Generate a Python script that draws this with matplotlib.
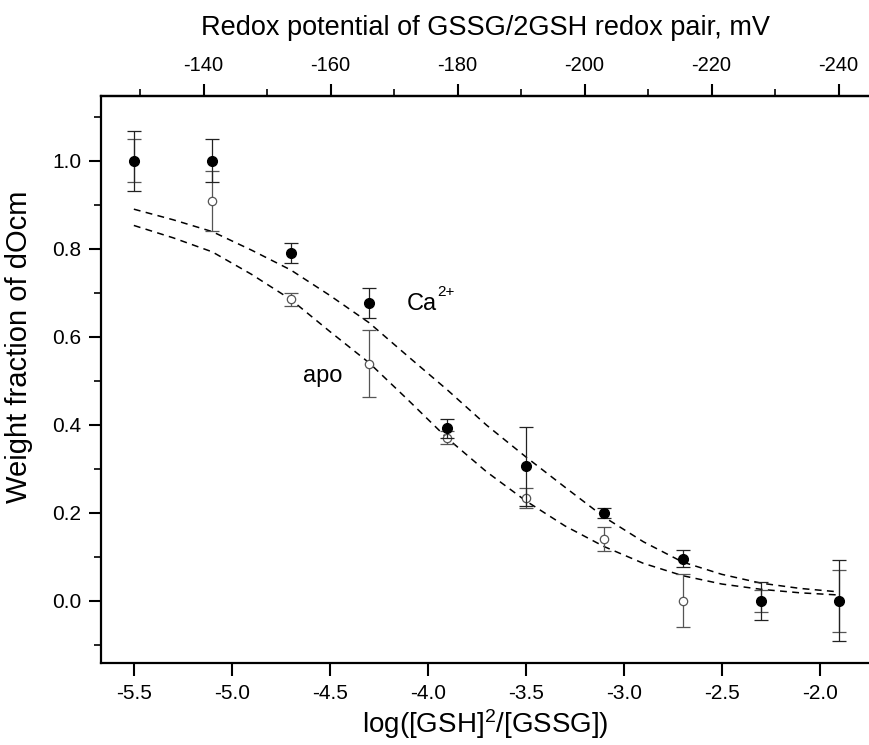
import numpy as np
import matplotlib
matplotlib.use("Agg")
import matplotlib.pyplot as plt
from matplotlib.ticker import MultipleLocator, FixedLocator

plt.rcParams['font.family'] = ['Liberation Sans', 'DejaVu Sans']
plt.rcParams['axes.unicode_minus'] = False
plt.rcParams['mathtext.fontset'] = 'custom'
plt.rcParams['mathtext.rm'] = 'Liberation Sans'
plt.rcParams['mathtext.it'] = 'Liberation Sans:italic'
plt.rcParams['mathtext.bf'] = 'Liberation Sans:bold'

# x = log([GSH]^2/[GSSG])
x_pts = [-5.5, -5.1, -4.7, -4.3, -3.9, -3.5, -3.1, -2.7, -2.3, -1.9]

# Ca2+ form (filled circles)
ca_val = [1.00, 1.00, 0.790, 0.677, 0.392, 0.306, 0.200, 0.096, 0.0, 0.0]
ca_err = [0.068, 0.049, 0.022, 0.034, 0.022, 0.090, 0.011, 0.020, 0.043, 0.092]

# apo form (open circles)
apo_val = [1.00, 0.908, 0.685, 0.539, 0.371, 0.233, 0.140, 0.0, 0.0, 0.0]
apo_err = [0.049, 0.068, 0.015, 0.077, 0.015, 0.023, 0.028, 0.060, 0.025, 0.070]

# fitted curves
fit_x = [-5.5, -5.3, -5.1, -4.9, -4.7, -4.5, -4.3, -4.1, -3.9, -3.7,
         -3.5, -3.3, -3.1, -2.9, -2.7, -2.5, -2.3, -2.1, -1.9]
fit_ca = [0.890, 0.866, 0.839, 0.797, 0.752, 0.694, 0.632, 0.555, 0.479, 0.399,
          0.327, 0.258, 0.190, 0.134, 0.088, 0.060, 0.040, 0.028, 0.020]
fit_apo = [0.853, 0.825, 0.793, 0.742, 0.685, 0.612, 0.541, 0.456, 0.369, 0.293,
           0.227, 0.170, 0.123, 0.085, 0.057, 0.038, 0.026, 0.018, 0.013]

# redox potential scale (mV) of the top axis
E_A, E_B = -298.79, -30.866
mv_major = [-140, -160, -180, -200, -220, -240]
mv_minor = [-130, -150, -170, -190, -210, -230]


def log_to_mv(x):
    return E_A + E_B * np.asarray(x)


def mv_to_log(e):
    return (np.asarray(e) - E_A) / E_B


fig = plt.figure(figsize=(8.7, 7.45), dpi=100)
# the frame runs off the right edge of the picture (no right spine)
ax = fig.add_axes([0.116, 0.110, 0.884, 0.761])

# fits
ax.plot(fit_x, fit_ca, ls=(0, (4.5, 3.5)), color='black', lw=1.1, zorder=2)
ax.plot(fit_x, fit_apo, ls=(0, (4.5, 3.5)), color='black', lw=1.1, zorder=2)

# data
ax.errorbar(x_pts, apo_val, yerr=apo_err, fmt='o', ms=6.0, mfc='white',
            mec='#555555', mew=0.9, ecolor='#555555', elinewidth=0.9,
            capsize=5, capthick=0.9, zorder=3)
ax.errorbar(x_pts, ca_val, yerr=ca_err, fmt='o', ms=7.0, mfc='black',
            mec='black', ecolor='#222222', elinewidth=0.9,
            capsize=5, capthick=0.9, zorder=4)

ax.text(-4.11, 0.674, 'Ca', fontsize=17, va='center', ha='left')
ax.annotate('2+', xy=(-4.11, 0.674), xytext=(22, 3.5), textcoords='offset points',
            fontsize=11, va='bottom', ha='left')
ax.text(-4.536, 0.51, 'apo', fontsize=17, va='center', ha='center')

ax.set_xlim(-5.668, -1.744)
ax.set_ylim(-0.1416, 1.147)

ax.xaxis.set_major_locator(MultipleLocator(0.5))
ax.yaxis.set_major_locator(MultipleLocator(0.2))
ax.yaxis.set_minor_locator(MultipleLocator(0.1))
ax.xaxis.set_major_formatter(plt.FuncFormatter(lambda v, p: f'{v:.1f}'))
ax.yaxis.set_major_formatter(plt.FuncFormatter(lambda v, p: f'{v:.1f}'))

ax.spines['right'].set_visible(False)
for s in ['left', 'bottom', 'top']:
    ax.spines[s].set_linewidth(1.6)

ax.tick_params(axis='both', which='major', direction='out', length=9,
               width=1.5, labelsize=15)
ax.tick_params(axis='y', which='minor', direction='out', length=5, width=1.2)
ax.tick_params(axis='x', which='major', pad=6)
ax.tick_params(axis='y', which='major', pad=5)

ax.set_xlabel(r'log([GSH]$^{2}$/[GSSG])', fontsize=20, labelpad=3)
ax.set_ylabel('Weight fraction of dOcm', fontsize=21)
ax.yaxis.set_label_coords(-0.088, 0.557)

top = ax.secondary_xaxis('top', functions=(log_to_mv, mv_to_log))
top.xaxis.set_major_locator(FixedLocator(mv_major))
top.xaxis.set_minor_locator(FixedLocator(mv_minor))
top.xaxis.set_major_formatter(plt.FuncFormatter(lambda v, p: f'{v:.0f}'))
top.tick_params(which='major', direction='out', length=9, width=1.5,
                labelsize=14.5, pad=6)
top.tick_params(which='minor', direction='out', length=5, width=1.2)
top.spines['top'].set_linewidth(1.6)
top.set_xlabel('Redox potential of GSSG/2GSH redox pair, mV',
               fontsize=19.5, labelpad=15)

fig.savefig('out.png', dpi=100)
